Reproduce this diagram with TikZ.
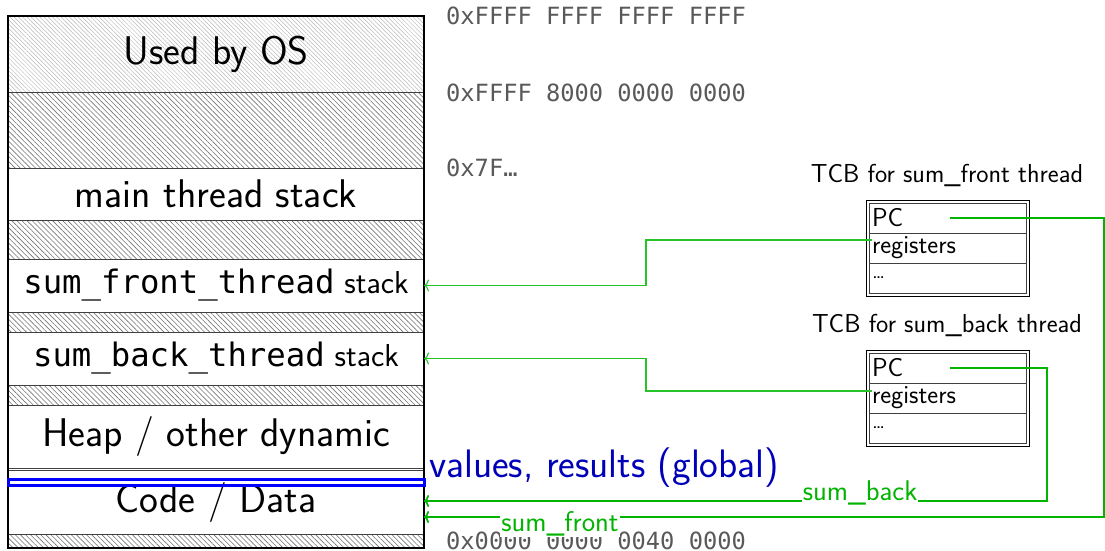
\documentclass[tikz,border=0pt]{standalone}
\usepackage{fontspec}
\newfontfamily\dmono{DejaVu Sans Mono}
\usetikzlibrary{patterns.meta,arrows.meta,fit}
\definecolor{addrgray}{gray}{0.35}
\definecolor{gthick}{RGB}{0,180,0}
\definecolor{gthin}{RGB}{40,195,40}
\definecolor{vblue}{RGB}{0,0,185}
\definecolor{hatchlight}{gray}{0.72}
\definecolor{hatchdark}{gray}{0.45}
\newcommand{\fs}[1]{\fontsize{#1}{#1}\selectfont}
\begin{document}
\begin{tikzpicture}[x=1pt,y=-1pt,
  mem/.style={draw=black!75, line width=0.8pt, minimum width=416pt, inner sep=0pt, outer sep=0pt, font=\sffamily\fs{40}},
  memsmall/.style={mem, font=\sffamily\fs{31.7}},
  hatchd/.style={mem, pattern={Lines[angle=-45,distance=3.6pt,line width=0.6pt]}, pattern color=hatchdark},
  hatchl/.style={mem, pattern={Lines[angle=-45,distance=3pt,line width=0.5pt]}, pattern color=hatchlight},
  addr/.style={anchor=west, inner sep=0pt, text=addrgray, font=\dmono\fs{23.7}},
  tcbtitle/.style={inner sep=0pt, font=\sffamily\fs{26}},
  tcbrow/.style={draw=black!75, line width=0.9pt, anchor=north west, minimum width=157pt, minimum height=30pt, text width=151pt, align=left, inner xsep=3pt, inner ysep=0pt, outer sep=0pt},
  tcbframe/.style={draw=black, line width=0.8pt, inner sep=3pt},
  thinlink/.style={draw=gthin, line width=1.1pt, -{To[length=5pt,width=12pt]}},
  thicklink/.style={draw=gthick, line width=1.7pt, -{To[length=5pt,width=12pt]}},
  glabel/.style={fill=white, inner sep=1pt, text=gthick, font=\sffamily\fs{28.5}}
]
\useasboundingbox (0,0) rectangle (1105,550);

% memory column
\node[hatchl, minimum height=76pt] (os) at (216,54) {Used by OS};
\node[hatchd, minimum height=76pt] (h1) at (216,130) {};
\node[mem, minimum height=52pt] (main) at (216,194) {main thread stack};
\node[hatchd, minimum height=39pt] (h2) at (216,239.5) {};
\node[memsmall, minimum height=53pt] (fstack) at (216,285.5) {{\dmono\fs{32.3}sum\_front\_thread} stack};
\node[hatchd, minimum height=20pt] (h3) at (216,322) {};
\node[memsmall, minimum height=53pt] (bstack) at (216,358.5) {{\dmono\fs{32.3}sum\_back\_thread} stack};
\node[hatchd, minimum height=20pt] (h4) at (216,395) {};
\node[mem, minimum height=63pt] (heap) at (216,436.5) {Heap / other dynamic};
\node[mem, minimum height=64pt] (code) at (216,502) {Code / Data};
\node[hatchd, minimum height=14pt] (h5) at (216,541) {};
\draw[line width=1.2pt] (os.north west) rectangle (h5.south east);

% global values
\node[draw=blue, line width=3pt, minimum width=416pt, minimum height=6.5pt, inner sep=0pt] (glob) at (216,482.5) {};
\node[anchor=west, inner sep=0pt, text=vblue, font=\sffamily\fs{39.7}] (vlabel) at (429,468) {values, results (global)};

% addresses
\node[addr] (a1) at (446,16) {0xFFFF FFFF FFFF FFFF};
\node[addr] (a2) at (446,93) {0xFFFF 8000 0000 0000};
\node[addr] (a3) at (446,168) {0x7F…};
\node[addr] (a4) at (446,541) {0x0000 0000 0040 0000};

% TCB front
\node[tcbtitle] (ftitle) at (947,175) {TCB for sum\_front thread};
\node[tcbrow, font=\sffamily\fs{26}] (fpc) at (869,203) {PC};
\node[tcbrow, font=\sffamily\fs{26}] (freg) at (869,233) {registers};
\node[tcbrow, font=\sffamily\fs{22}] (fdots) at (869,263) {\dots};
\node[tcbframe, fit=(fpc)(fdots)] (fframe) {};

% TCB back
\node[tcbtitle] (btitle) at (947,325) {TCB for sum\_back thread};
\node[tcbrow, font=\sffamily\fs{26}] (bpc) at (869,353) {PC};
\node[tcbrow, font=\sffamily\fs{26}] (breg) at (869,383) {registers};
\node[tcbrow, font=\sffamily\fs{22}] (bdots) at (869,413) {\dots};
\node[tcbframe, fit=(bpc)(bdots)] (bframe) {};

% corner coordinates
\coordinate (fk) at (646,0);
\coordinate (fcorner) at (1104,517);
\coordinate (bcorner) at (1047,501);

% register links
\draw[thinlink] ([yshift=8pt,xshift=3pt]freg.west) -- ([yshift=8pt]freg.west -| fk) -- (fk |- fstack.east) -- (fstack.east);
\draw[thinlink] ([yshift=7pt,xshift=3pt]breg.west) -- ([yshift=7pt]breg.west -| fk) -- (fk |- bstack.east) -- (bstack.east);

% PC links
\draw[thicklink] ([xshift=81pt]fpc.west) -| (fcorner) -- node[glabel, pos=0.8, yshift=-7pt] (flab) {sum\_front} (code.east |- fcorner);
\draw[thicklink] ([xshift=81pt]bpc.west) -| (bcorner) -- node[glabel, pos=0.3, yshift=8pt] (blab) {sum\_back} (code.east |- bcorner);
\end{tikzpicture}
\end{document}
